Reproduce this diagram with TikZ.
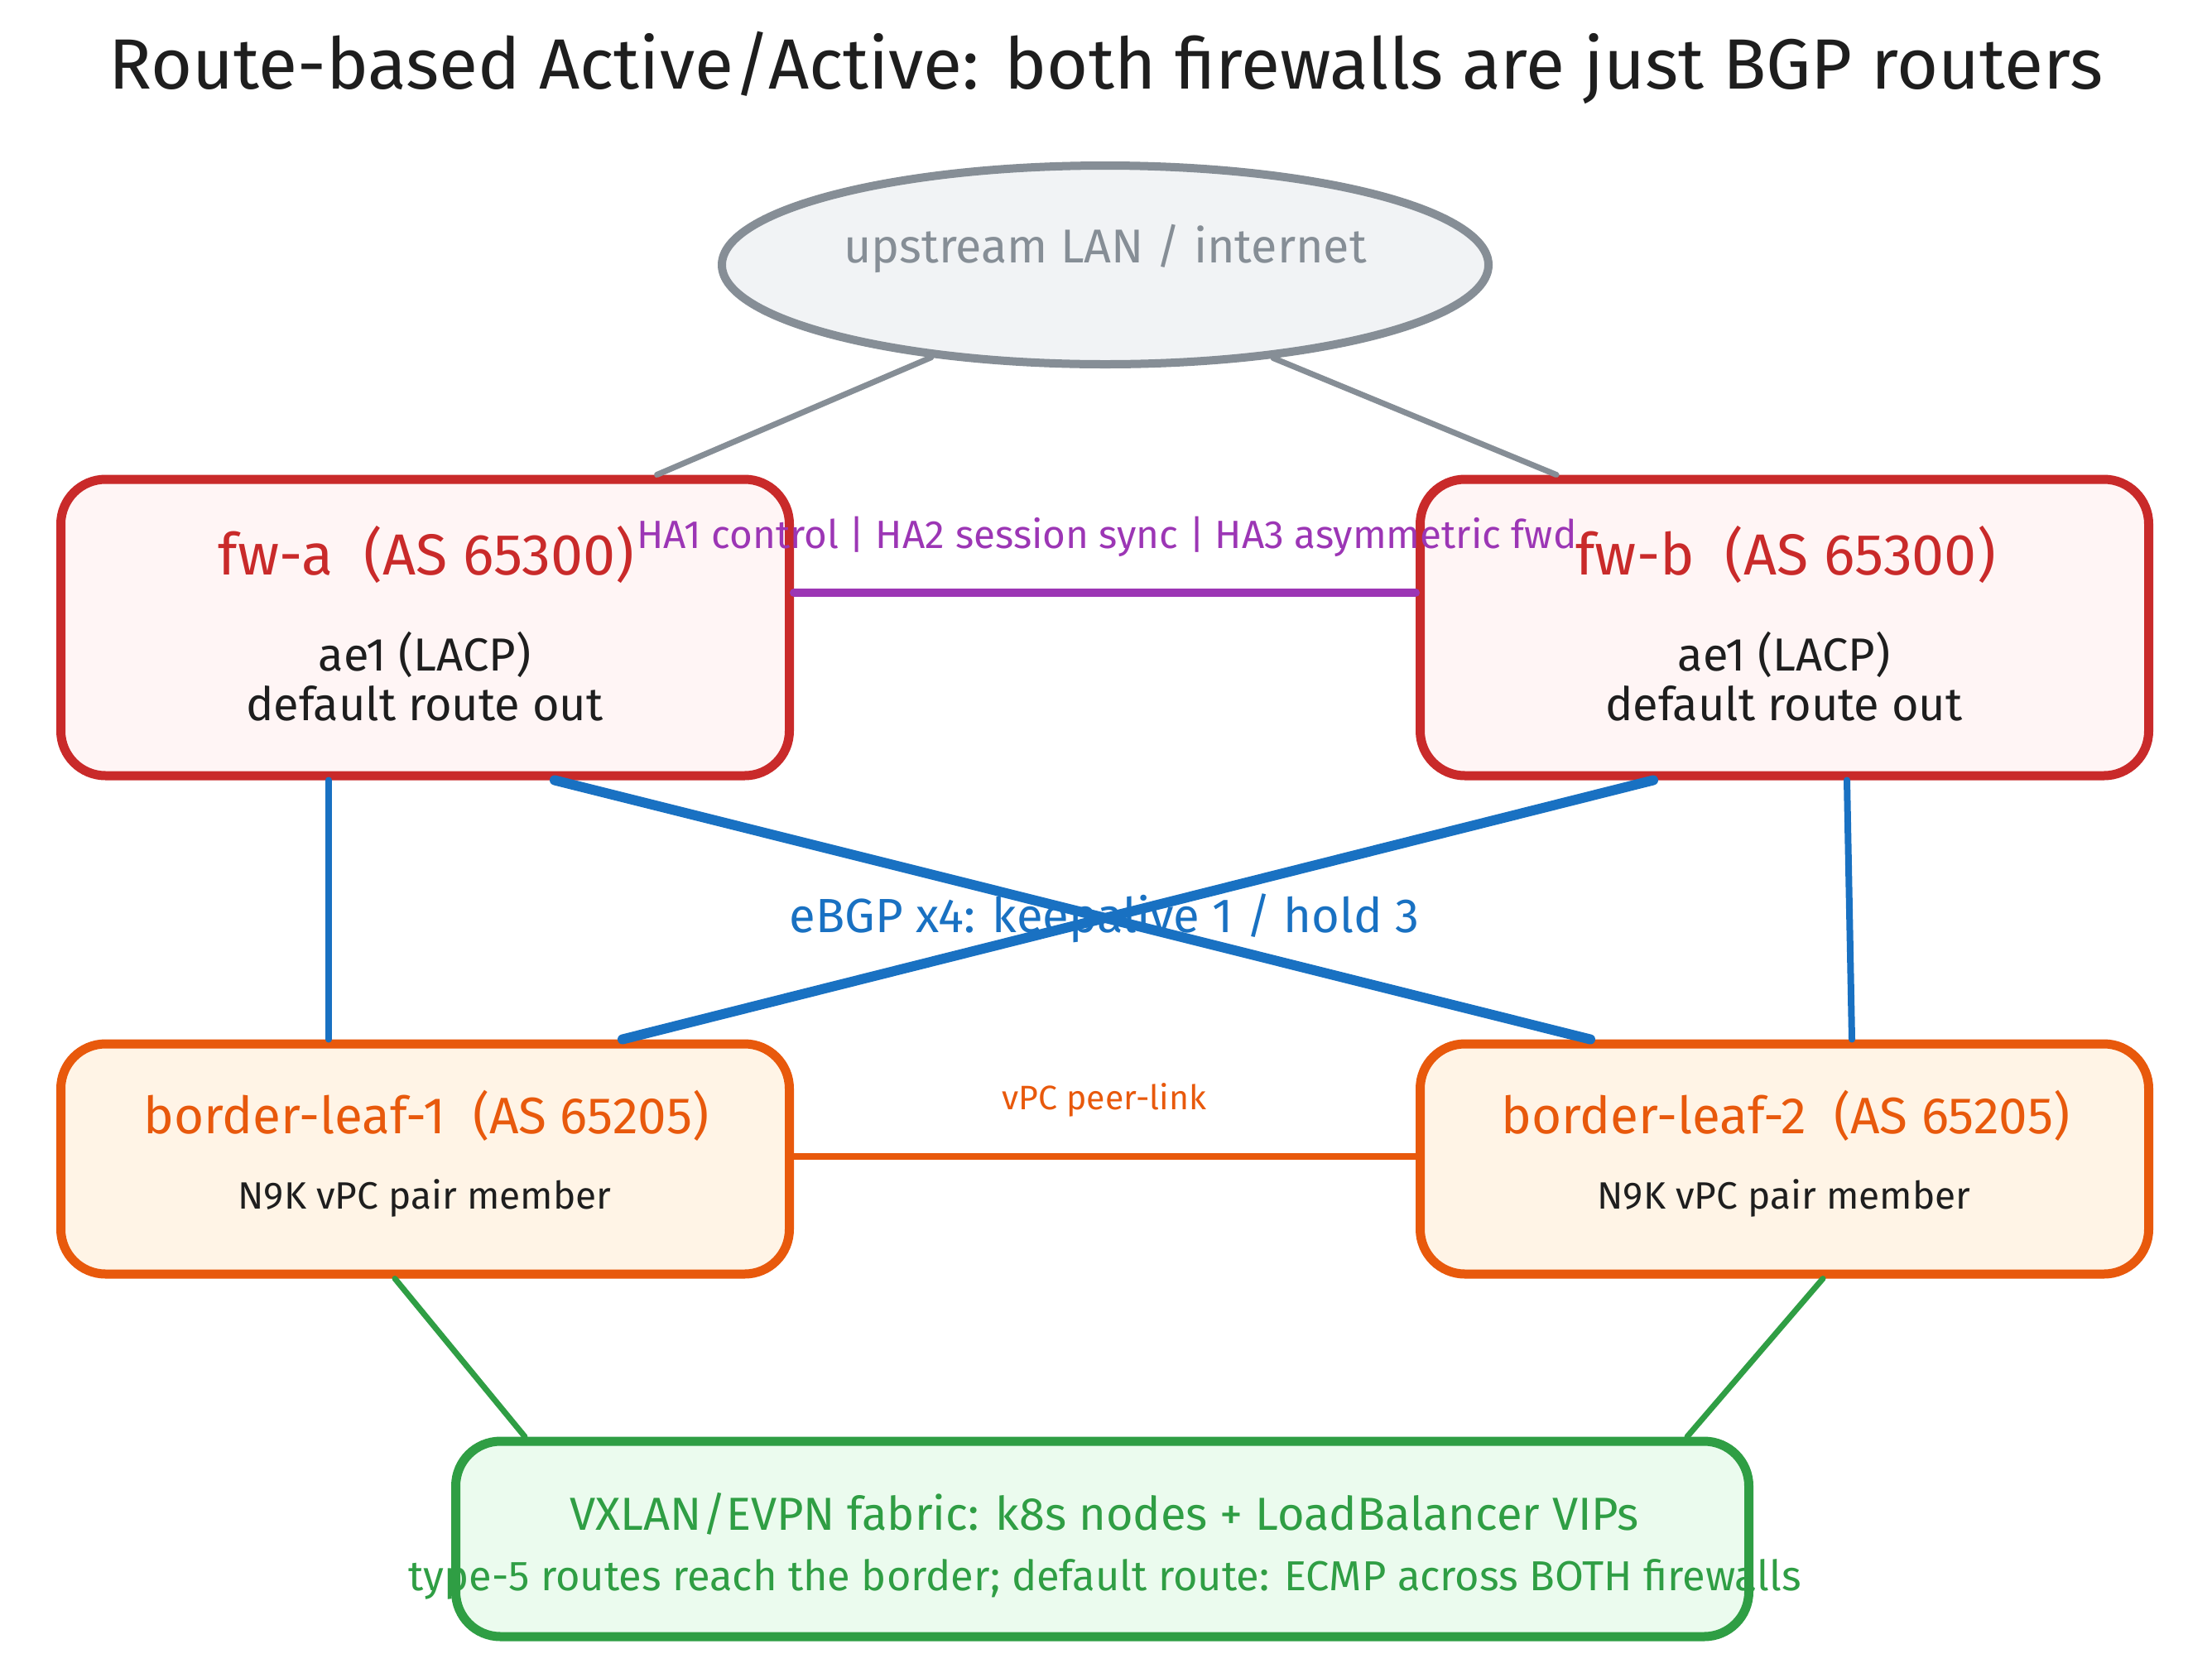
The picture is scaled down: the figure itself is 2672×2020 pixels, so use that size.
\documentclass[tikz,border=0pt]{standalone}
\usepackage{fontspec}
\setmainfont{Fira Sans}
\usetikzlibrary{shapes.geometric}
\definecolor{cred}{HTML}{C92A2A}
\definecolor{credfill}{HTML}{FFF5F5}
\definecolor{corange}{HTML}{E8590C}
\definecolor{corangefill}{HTML}{FFF4E6}
\definecolor{cgreen}{HTML}{2F9E44}
\definecolor{cgreenfill}{HTML}{EBFBEE}
\definecolor{cblue}{HTML}{1971C2}
\definecolor{cpurple}{HTML}{9C36B5}
\definecolor{cgray}{HTML}{868E96}
\definecolor{cgrayfill}{HTML}{F1F3F5}
\definecolor{cink}{HTML}{1E1E1E}
\begin{document}
\begin{tikzpicture}[x=0.5pt,y=-0.5pt,
  box/.style={draw, rounded corners=27pt, line width=5.5pt, minimum width=440pt, inner sep=0pt},
  fwbox/.style={box, draw=cred, fill=credfill, minimum height=179pt},
  leafbox/.style={box, draw=corange, fill=corangefill, minimum height=139pt},
  fabbox/.style={box, draw=cgreen, fill=cgreenfill, minimum width=781pt, minimum height=118pt},
  cloud/.style={ellipse, draw=cgray, fill=cgrayfill, line width=5pt, minimum width=463pt, minimum height=120pt, inner sep=0pt},
  fwtitle/.style={font=\fontsize{35}{42}\selectfont, inner sep=0pt},
  leaftitle/.style={font=\fontsize{31}{37}\selectfont, inner sep=0pt},
  boxsub/.style={font=\fontsize{28}{30}\selectfont, text=cink, align=center, inner sep=0pt},
  leafsub/.style={font=\fontsize{23}{28}\selectfont, text=cink, inner sep=0pt},
  link/.style={line cap=round},
  lbl/.style={inner sep=0pt}
]
\fill[white] (0,0) rectangle (2672,2020);
\useasboundingbox (0,0) rectangle (2672,2020);

% title
\node[lbl, text=cink, font=\fontsize{43}{50}\selectfont] (title) at (1336,82) {Route-based Active/Active: both firewalls are just BGP routers};

% nodes
\node[cloud] (up) at (1335,320) {};
\node[lbl, text=cgray, font=\fontsize{28.7}{34}\selectfont] (uptext) at (1335,300) {upstream LAN / internet};

\node[fwbox] (fwa) at (513.5,758) {};
\node[fwtitle, text=cred] (fwat) at (515,670) {fw-a\ \ (AS 65300)};
\node[boxsub] (fwas) at (513,817) {ae1 (LACP)\\default route out};

\node[fwbox] (fwb) at (2155.5,758) {};
\node[fwtitle, text=cred] (fwbt) at (2157,670) {fw-b\ \ (AS 65300)};
\node[boxsub] (fwbs) at (2155,817) {ae1 (LACP)\\default route out};

\node[leafbox] (bl1) at (513.5,1400) {};
\node[leaftitle, text=corange] (bl1t) at (515,1348) {border-leaf-1\ \ (AS 65205)};
\node[leafsub] (bl1s) at (513,1447) {N9K vPC pair member};

\node[leafbox] (bl2) at (2155.5,1400) {};
\node[leaftitle, text=corange] (bl2t) at (2157,1348) {border-leaf-2\ \ (AS 65205)};
\node[leafsub] (bl2s) at (2155,1447) {N9K vPC pair member};

\node[fabbox] (fab) at (1331.5,1859) {};
\node[lbl, text=cgreen, font=\fontsize{28}{33}\selectfont] (fab1) at (1334,1829) {VXLAN/EVPN fabric: k8s nodes + LoadBalancer VIPs};
\node[lbl, text=cgreen, font=\fontsize{25.3}{30}\selectfont] (fab2) at (1335,1908) {type-5 routes reach the border; default route: ECMP across BOTH firewalls};

% upstream links
\draw[link, cgray, line width=3.5pt] (up.208) -- ([xshift=140pt]fwa.north);
\draw[link, cgray, line width=3.5pt] (up.331.5) -- ([xshift=-137.75pt]fwb.north);

% HA link
\draw[link, cpurple, line width=5pt] ([yshift=21pt]fwa.east) -- ([yshift=21pt]fwb.west);
\node[lbl, text=cpurple, font=\fontsize{23.8}{28}\selectfont] (halbl) at (1337,648) {HA1 control | HA2 session sync | HA3 asymmetric fwd};

% eBGP links
\draw[link, cblue, line width=4pt] ([xshift=-58.25pt]fwa.south) -- ([xshift=-58.25pt]bl1.north);
\draw[link, cblue, line width=6pt] ([xshift=78.25pt]fwa.south) -- ([xshift=-117.25pt]bl2.north);
\draw[link, cblue, line width=6pt] ([xshift=-79.25pt]fwb.south) -- ([xshift=119.25pt]bl1.north);
\draw[link, cblue, line width=4pt] ([xshift=37.75pt]fwb.south) -- ([xshift=40.75pt]bl2.north);
\node[lbl, text=cblue, font=\fontsize{29}{34}\selectfont] (bgplbl) at (1334,1109) {eBGP x4: keepalive 1 / hold 3};

% vPC peer-link
\draw[link, corange, line width=4pt] ([yshift=1.5pt]bl1.east) -- ([yshift=1.5pt]bl2.west);
\node[lbl, text=corange, font=\fontsize{20.5}{24}\selectfont] (vpclbl) at (1334,1329) {vPC peer-link};

% fabric links
\draw[link, cgreen, line width=3.5pt] ([xshift=-18.25pt]bl1.south) -- ([xshift=-348.75pt]fab.north);
\draw[link, cgreen, line width=3.5pt] ([xshift=23.25pt]bl2.south) -- ([xshift=353.25pt]fab.north);
\end{tikzpicture}
\end{document}
